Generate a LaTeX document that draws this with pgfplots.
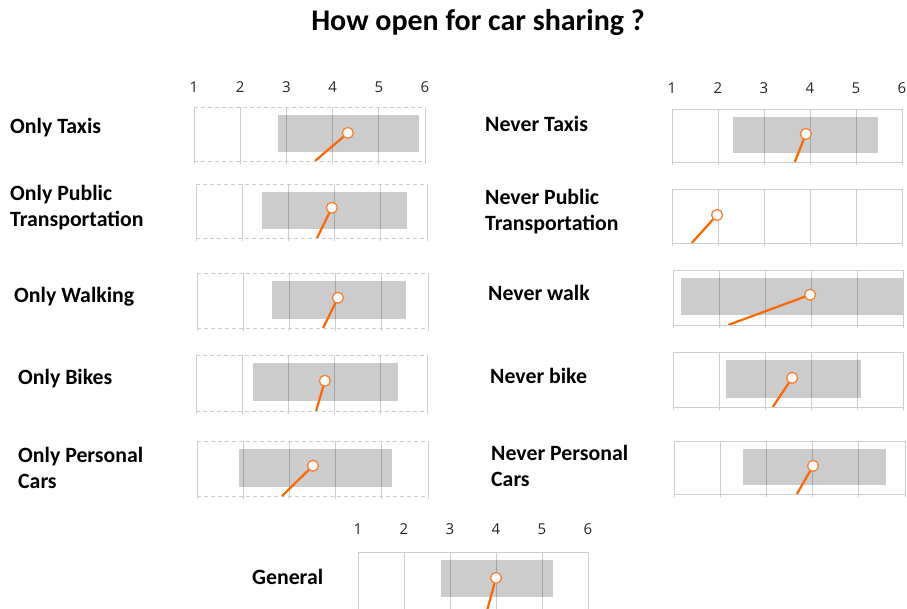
\documentclass[border=0pt]{standalone}
\usepackage{fontspec}
\setmainfont{Carlito}
\newfontfamily\tickfam{Open Sans}
\usepackage{pgfplots}
\pgfplotsset{compat=1.18}

\definecolor{lineor}{RGB}{255,102,0}
\definecolor{markor}{RGB}{245,130,50}
\definecolor{gridc}{RGB}{205,205,205}

\pgfplotsset{
  panel/.style={
    scale only axis, height=54pt,
    xmin=1, xmax=6, ymin=0, ymax=1,
    xtick={1,2,3,4,5,6}, ytick=\empty, xticklabels={},
    xmajorgrids, grid style={gridc, line width=0.8pt},
    axis line style={gridc, line width=0.8pt},
    tick style={gridc, line width=0.8pt},
    major tick length=3pt, tick align=outside, xtick pos=lower,
    anchor=north west,
  },
  dashedbox/.style={separate axis lines,
    x axis line style={dash pattern=on 4pt off 3pt}},
  toplabels/.style={xticklabels={1,2,3,4,5,6}, xticklabel pos=upper, xtick pos=lower,
    xticklabel style={font=\tickfam\fontsize{15}{15}\selectfont, text=black!85, anchor=center, yshift=#1}},
  range/.style={fill=black, fill opacity=0.2, draw=none},
  avg/.style={lineor, line width=2.2pt, mark=*, mark indices={2}, mark size=5.5pt,
    mark options={fill=white, draw=markor, line width=1.3pt, solid}},
}
\newcommand{\lbl}{\fontsize{21.8}{26}\selectfont\bfseries}
\tikzset{lab/.style={anchor=west, align=left, inner sep=0pt, font=\lbl}}

\begin{document}
\begin{tikzpicture}[x=1pt, y=1pt]
\useasboundingbox (0,0) rectangle (907,608);
\node[font=\fontsize{30}{30}\selectfont\bfseries] at (478,585) {How open for car sharing ?};

% left column
\begin{axis}[panel, dashedbox, toplabels=17pt, at={(194pt,501pt)}, width=231pt]
\addplot[range] coordinates {(2.82,0.17) (5.87,0.17) (5.87,0.85) (2.82,0.85)} -- cycle;
\addplot[avg] coordinates {(3.62,0) (4.33,0.52)};
\end{axis}
\node[lab] at (10,480) {Only Taxis};

\begin{axis}[panel, dashedbox, at={(196pt,424pt)}, width=231pt]
\addplot[range] coordinates {(2.43,0.17) (5.57,0.17) (5.57,0.85) (2.43,0.85)} -- cycle;
\addplot[avg] coordinates {(3.62,0) (3.94,0.56)};
\end{axis}
\node[lab] at (10,400) {Only Public\\Transportation};

\begin{axis}[panel, dashedbox, at={(197pt,335pt)}, width=231pt, height=55pt]
\addplot[range] coordinates {(2.62,0.17) (5.52,0.17) (5.52,0.85) (2.62,0.85)} -- cycle;
\addplot[avg] coordinates {(3.73,0) (4.05,0.55)};
\end{axis}
\node[lab] at (14,311) {Only Walking};

\begin{axis}[panel, dashedbox, at={(196pt,253pt)}, width=231pt, height=56pt]
\addplot[range] coordinates {(2.23,0.17) (5.37,0.17) (5.37,0.85) (2.23,0.85)} -- cycle;
\addplot[avg] coordinates {(3.60,0) (3.79,0.54)};
\end{axis}
\node[lab] at (18,229) {Only Bikes};

\begin{axis}[panel, dashedbox, at={(197pt,167pt)}, width=231pt, height=55pt]
\addplot[range] coordinates {(1.91,0.17) (5.22,0.17) (5.22,0.85) (1.91,0.85)} -- cycle;
\addplot[avg] coordinates {(2.84,0) (3.51,0.55)};
\end{axis}
\node[lab] at (18,140) {Only Personal\\Cars};

% right column
\begin{axis}[panel, toplabels=18pt, at={(672pt,499pt)}, width=230pt, height=53pt]
\addplot[range] coordinates {(2.33,0.17) (5.48,0.17) (5.48,0.85) (2.33,0.85)} -- cycle;
\addplot[avg] coordinates {(3.67,0) (3.91,0.53)};
\end{axis}
\node[lab] at (485,484) {Never Taxis};

\begin{axis}[panel, at={(672pt,419pt)}, width=230pt]
\addplot[avg] coordinates {(1.43,0) (1.98,0.52)};
\end{axis}
\node[lab] at (485,396) {Never Public\\Transportation};

\begin{axis}[panel, at={(673pt,338pt)}, width=230pt, height=55pt]
\addplot[range] coordinates {(1.17,0.18) (6,0.18) (6,0.85) (1.17,0.85)} -- cycle;
\addplot[avg] coordinates {(2.20,0) (3.98,0.55)};
\end{axis}
\node[lab] at (488,315) {Never walk};

\begin{axis}[panel, at={(673pt,256pt)}, width=230pt, height=55pt]
\addplot[range] coordinates {(2.15,0.17) (5.09,0.17) (5.09,0.85) (2.15,0.85)} -- cycle;
\addplot[avg] coordinates {(3.17,0) (3.59,0.53)};
\end{axis}
\node[lab] at (490,232) {Never bike};

\begin{axis}[panel, at={(674pt,167pt)}, width=231pt, height=53pt]
\addplot[range] coordinates {(2.49,0.17) (5.59,0.17) (5.59,0.85) (2.49,0.85)} -- cycle;
\addplot[avg] coordinates {(3.66,0) (4.01,0.53)};
\end{axis}
\node[lab] at (491,142) {Never Personal\\Cars};

% general, cut off at the bottom edge
\begin{axis}[panel, toplabels=20pt, at={(358pt,56pt)}, width=230pt, height=59.4pt, ymin=-0.1]
\addplot[range] coordinates {(2.80,0.17) (5.24,0.17) (5.24,0.85) (2.80,0.85)} -- cycle;
\addplot[avg] coordinates {(3.80,-0.1) (4.00,0.52)};
\end{axis}
\node[lab] at (252,31) {General};
\end{tikzpicture}
\end{document}
